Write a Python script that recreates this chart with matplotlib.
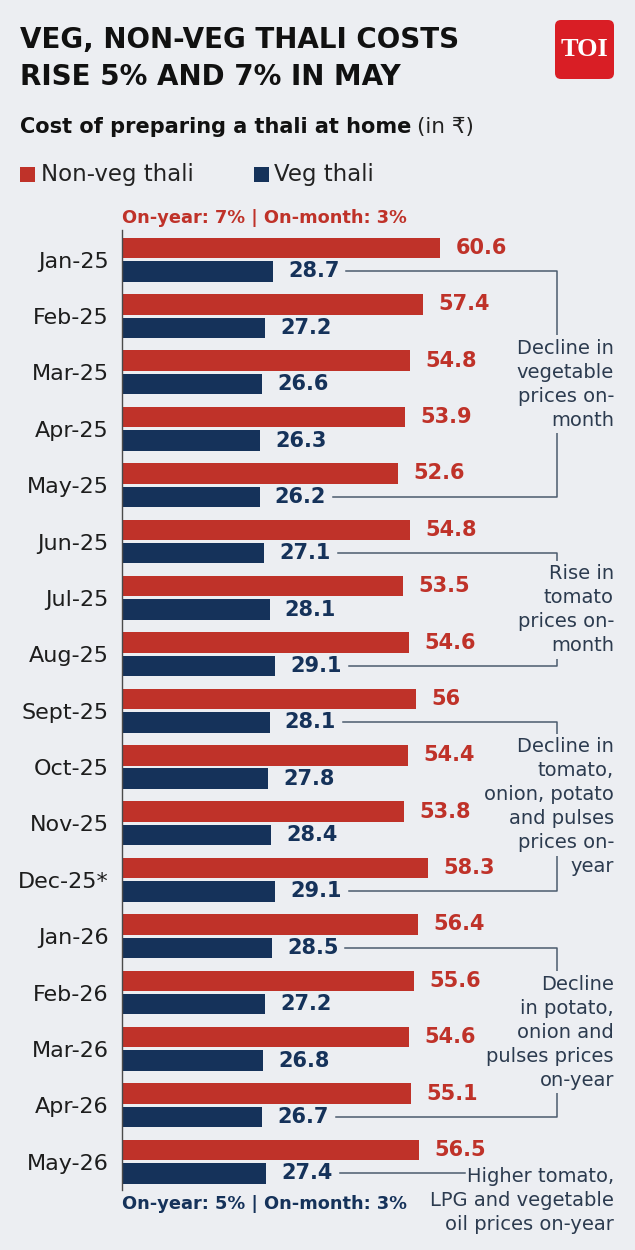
import numpy as np
import matplotlib
matplotlib.use("Agg")
import matplotlib.pyplot as plt
from matplotlib.patches import Rectangle, FancyBboxPatch

# data
months = ["Jan-25", "Feb-25", "Mar-25", "Apr-25", "May-25", "Jun-25", "Jul-25",
          "Aug-25", "Sept-25", "Oct-25", "Nov-25", "Dec-25*", "Jan-26", "Feb-26",
          "Mar-26", "Apr-26", "May-26"]
nonveg = [60.6, 57.4, 54.8, 53.9, 52.6, 54.8, 53.5, 54.6, 56, 54.4, 53.8, 58.3,
          56.4, 55.6, 54.6, 55.1, 56.5]
veg = [28.7, 27.2, 26.6, 26.3, 26.2, 27.1, 28.1, 29.1, 28.1, 27.8, 28.4, 29.1,
       28.5, 27.2, 26.8, 26.7, 27.4]

# bracket notes: (first row, last row)
note_rows = [(0, 4), (5, 7), (8, 11), (12, 15)]
note_texts = [
    "Decline in\nvegetable\nprices on-\nmonth",
    "Rise in\ntomato\nprices on-\nmonth",
    "Decline in\ntomato,\nonion, potato\nand pulses\nprices on-\nyear",
    "Decline\nin potato,\nonion and\npulses prices\non-year",
]
last_note = "Higher tomato,\nLPG and vegetable\noil prices on-year"
top_note = "On-year: 7% | On-month: 3%"
bottom_note = "On-year: 5% | On-month: 3%"

BG = "#eceef2"
RED = "#bf3229"
NAVY = "#15325a"
LINE = "#4b5b6e"
NOTE = "#2c3b4f"

plt.rcParams['font.family'] = ['DejaVu Sans', 'Noto Sans']

W, H = 635, 1250
fig = plt.figure(figsize=(W / 100, H / 100), dpi=100, facecolor=BG)

# main axes: axis line at x=122px, from y=230px down to 1190px
pitch = 56.37
scale = 5.25
ax = fig.add_axes([122 / W, 1 - 1190 / H, 1 - 122 / W, 960 / H])
ax.set_facecolor("none")
ax.set_xlim(0, (W - 122) / scale)
ax.set_ylim((1190 - 259.7) / pitch, (230 - 259.7) / pitch)

y = np.arange(len(months))
off = 11.7 / pitch
h = 20.5 / pitch
ax.barh(y - off, nonveg, height=h, color=RED)
ax.barh(y + off, veg, height=h, color=NAVY)

for s in ["top", "right", "bottom"]:
    ax.spines[s].set_visible(False)
ax.spines["left"].set_color("#4a4a4a")
ax.spines["left"].set_linewidth(1.0)
ax.set_xticks([])
ax.set_yticks(y, months)
ax.tick_params(axis="y", length=0, pad=9.5, labelsize=16, labelcolor="#1d1d1d")

nv_txt = [ax.annotate(f"{v:g}", (v, yy - off), xytext=(11, 0), textcoords="offset points",
                      va="center", ha="left", fontsize=15, fontweight="bold", color=RED)
          for v, yy in zip(nonveg, y)]
v_txt = [ax.annotate(f"{v:g}", (v, yy + off), xytext=(11, 0), textcoords="offset points",
                     va="center", ha="left", fontsize=15, fontweight="bold", color=NAVY)
         for v, yy in zip(veg, y)]

# overlay in pixel units for title, legend, logo
deco = fig.add_axes([0, 0, 1, 1])
deco.set_xlim(0, W)
deco.set_ylim(H, 0)
deco.axis("off")
deco.patch.set_alpha(0)

deco.text(20, 48, "VEG, NON-VEG THALI COSTS", fontsize=20, fontweight="bold",
          va="baseline", color="#111111")
deco.text(20, 85, "RISE 5% AND 7% IN MAY", fontsize=20, fontweight="bold",
          va="baseline", color="#111111")
sub = deco.text(20, 133, "Cost of preparing a thali at home", fontsize=15,
                fontweight="bold", va="baseline", color="#111111")

deco.add_patch(FancyBboxPatch((561, 26), 47, 47, boxstyle="round,pad=6",
                              fc="#d91e25", ec="none"))
deco.text(584.5, 50, "TOI", family="Liberation Serif", fontweight="bold",
          fontsize=19, color="white", ha="center", va="center")

deco.add_patch(Rectangle((20, 167), 15, 15, fc=RED, ec="none"))
deco.text(41, 175, "Non-veg thali", fontsize=16.5, va="center", color="#222222")
deco.add_patch(Rectangle((254, 167), 15, 15, fc=NAVY, ec="none"))
deco.text(274, 175, "Veg thali", fontsize=16.5, va="center", color="#222222")

deco.text(122, 218, top_note, fontsize=12.8, fontweight="bold", color=RED, va="center")
deco.text(122, 1204, bottom_note, fontsize=12.8, fontweight="bold", color=NAVY, va="center")

fig.canvas.draw()
r = fig.canvas.get_renderer()
inv = ax.transData.inverted()

bb = sub.get_window_extent(r)
deco.text(bb.x1 + 6, 133, "(in ₹)", fontsize=15.5, va="baseline", color="#222222")


def end_of(t):
    b = t.get_window_extent(r)
    return inv.transform((b.x1 + 7, 0))[0]


bx = (557 - 122) / scale
tx = (614 - 122) / scale
step = 24 / pitch

for (a, b), note in zip(note_rows, note_texts):
    ya, yb = a + off, b + off
    ax.plot([end_of(v_txt[a]), bx, bx, end_of(v_txt[b])], [ya, ya, yb, yb],
            color=LINE, lw=1.1, clip_on=False, zorder=1)
    lines = note.split("\n")
    mid = (ya + yb) / 2
    for k, s in enumerate(lines):
        yk = mid + (k - (len(lines) - 1) / 2) * step
        ax.text(tx, yk, s, ha="right", va="center", fontsize=14, color=NOTE, zorder=3,
                bbox=dict(facecolor=BG, edgecolor="none", pad=2.5))

# last note for May-26
ya = 16 + off
last = []
for k, s in enumerate(last_note.split("\n")):
    last.append(ax.text(tx, ya + 3 / pitch + k * step, s, ha="right", va="center",
                        fontsize=14, color=NOTE, zorder=3))
fig.canvas.draw()
lb = last[0].get_window_extent(r)
x_end = inv.transform((lb.x0 - 2, 0))[0]
ax.plot([end_of(v_txt[16]), x_end], [ya, ya], color=LINE, lw=1.1, clip_on=False, zorder=1)

fig.savefig("out.png", dpi=100, facecolor=BG)
